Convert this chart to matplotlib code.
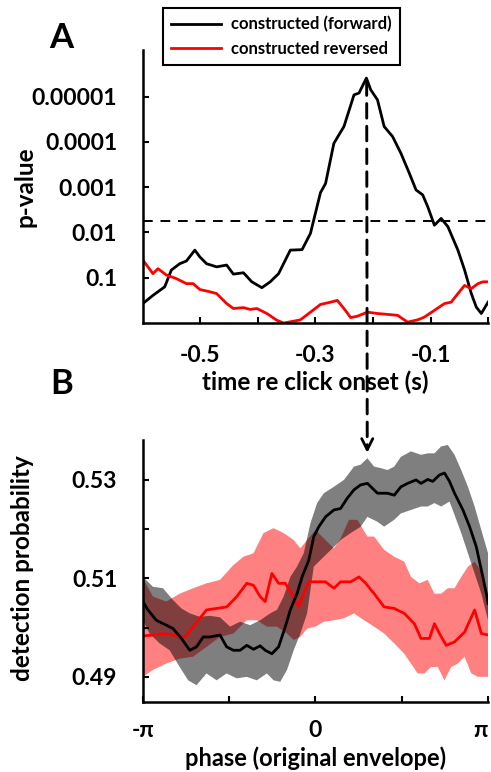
import numpy as np
import matplotlib.pyplot as plt
from matplotlib.patches import ConnectionPatch

plt.rcParams['font.family'] = ['Lato', 'DejaVu Sans']
plt.rcParams['font.weight'] = 'bold'
plt.rcParams['axes.labelweight'] = 'bold'

# panel A: -log10(p) vs time re click onset (s)
t_fwd = [-0.6, -0.5825, -0.562, -0.5505, -0.5359, -0.5243, -0.5097, -0.501, -0.4893,
         -0.4718, -0.4544, -0.4427, -0.4252, -0.4107, -0.3932, -0.3786, -0.3641,
         -0.3437, -0.3233, -0.3087, -0.2913, -0.2825, -0.268, -0.2505, -0.233,
         -0.2243, -0.2115, -0.2039, -0.1922, -0.1806, -0.1660, -0.1515, -0.1369,
         -0.1252, -0.1136, -0.1049, -0.0932, -0.0816, -0.0699, -0.0524, -0.0408,
         -0.0291, -0.0204, -0.0117, 0.0]
nlogp_fwd = [0.43, 0.61, 0.80, 1.17, 1.31, 1.37, 1.61, 1.46, 1.31, 1.24, 1.28, 1.08,
             1.11, 0.91, 0.78, 0.91, 1.09, 1.61, 1.62, 1.98, 2.88, 3.08, 3.97, 4.34,
             5.04, 5.08, 5.41, 5.15, 4.93, 4.34, 4.12, 3.75, 3.31, 2.94, 2.83, 2.57,
             2.16, 2.31, 2.13, 1.61, 1.17, 0.65, 0.35, 0.21, 0.46]

t_rev = [-0.6, -0.5825, -0.5738, -0.5592, -0.5417, -0.5243, -0.5126, -0.501, -0.4835,
         -0.4718, -0.4544, -0.4427, -0.4252, -0.4136, -0.4019, -0.3845, -0.3670,
         -0.3553, -0.3379, -0.3262, -0.3087, -0.2913, -0.2738, -0.2621, -0.2505,
         -0.2388, -0.2272, -0.2097, -0.1922, -0.1748, -0.1573, -0.1398, -0.1223,
         -0.1107, -0.0932, -0.0757, -0.0641, -0.0524, -0.0408, -0.0291, -0.0175,
         -0.0087, 0.0]
nlogp_rev = [1.39, 1.09, 1.20, 1.06, 0.98, 0.87, 0.87, 0.74, 0.69, 0.65, 0.43, 0.32,
             0.34, 0.30, 0.32, 0.21, 0.06, 0.0, 0.04, 0.07, 0.24, 0.41, 0.46, 0.50,
             0.32, 0.12, 0.15, 0.24, 0.21, 0.19, 0.17, 0.02, 0.07, 0.13, 0.28, 0.43,
             0.46, 0.65, 0.83, 0.76, 0.87, 0.91, 0.91]

nlogp_thresh = 2.25
peak_time = -0.211
peak_nlogp = 5.35
p_ticks = [1, 2, 3, 4, 5]
p_labels = ['0.1', '0.01', '0.001', '0.0001', '0.00001']

# panel B: detection probability vs phase (units of pi)
ph_fwd = [-1.0, -0.9709, -0.9223, -0.8641, -0.8252, -0.7767, -0.7282, -0.6893,
          -0.6505, -0.6117, -0.5534, -0.5146, -0.4757, -0.4369, -0.398, -0.3592,
          -0.3204, -0.2913, -0.2524, -0.2136, -0.1748, -0.1456, -0.1068, -0.0777,
          -0.0388, -0.0097, 0.0194, 0.0583, 0.1068, 0.1456, 0.1845, 0.2233, 0.2621,
          0.301, 0.3301, 0.3592, 0.4175, 0.4563, 0.4951, 0.534, 0.5825, 0.6117,
          0.6505, 0.6796, 0.7184, 0.7476, 0.7767, 0.8058, 0.8544, 0.8932, 0.932,
          0.9612, 0.9903, 1.0]
dp_fwd = [0.5053, 0.5036, 0.5015, 0.5005, 0.4998, 0.4978, 0.4954, 0.4961, 0.4981,
          0.4981, 0.4985, 0.4961, 0.4954, 0.4954, 0.4964, 0.4956, 0.4963, 0.4954,
          0.4947, 0.4961, 0.5002, 0.5036, 0.5069, 0.5103, 0.5137, 0.5185, 0.5205,
          0.5225, 0.5239, 0.5242, 0.5263, 0.5280, 0.5290, 0.5293, 0.5283, 0.5273,
          0.5273, 0.5269, 0.5286, 0.5293, 0.5300, 0.5293, 0.5301, 0.5297, 0.5310,
          0.5314, 0.5297, 0.5273, 0.5239, 0.5205, 0.5164, 0.5117, 0.5069, 0.5049]

ph_fwd_hi = [-1.0, -0.9417, -0.8835, -0.8252, -0.7767, -0.7282, -0.6699, -0.6117,
             -0.5534, -0.4951, -0.4369, -0.3786, -0.3204, -0.2621, -0.2233, -0.1845,
             -0.1456, -0.1068, -0.068, -0.0291, 0.0097, 0.0485, 0.1068, 0.165,
             0.2233, 0.2621, 0.301, 0.3398, 0.3786, 0.4175, 0.4563, 0.4951, 0.5534,
             0.6117, 0.6505, 0.6893, 0.7282, 0.767, 0.8058, 0.8447, 0.8835, 0.9223,
             0.9612, 1.0]
dp_fwd_hi = [0.5103, 0.5083, 0.5080, 0.5056, 0.5039, 0.5029, 0.5022, 0.5024, 0.5021,
             0.5002, 0.5012, 0.5005, 0.5015, 0.5029, 0.5036, 0.5063, 0.5103, 0.5124,
             0.5151, 0.5212, 0.5253, 0.5273, 0.5286, 0.5300, 0.5327, 0.5331, 0.5344,
             0.5327, 0.5324, 0.5320, 0.5327, 0.5347, 0.5358, 0.5351, 0.5354, 0.5354,
             0.5368, 0.5371, 0.5351, 0.5320, 0.5286, 0.5246, 0.5198, 0.5151]

ph_fwd_lo = [-1.0, -0.9612, -0.9029, -0.8447, -0.7864, -0.7379, -0.6893, -0.6311,
             -0.5728, -0.5146, -0.4563, -0.398, -0.3398, -0.2816, -0.2427, -0.2039,
             -0.1650, -0.1262, -0.0874, -0.0485, -0.0097, 0.0485, 0.1068, 0.1456,
             0.2039, 0.2621, 0.301, 0.3592, 0.398, 0.4563, 0.4951, 0.5534, 0.6117,
             0.6505, 0.6893, 0.7282, 0.7767, 0.8058, 0.8447, 0.8835, 0.9223, 0.9612,
             1.0]
dp_fwd_lo = [0.5015, 0.4988, 0.4968, 0.4954, 0.4920, 0.4893, 0.4883, 0.4907, 0.4893,
             0.4907, 0.4897, 0.4900, 0.4893, 0.4907, 0.4893, 0.4890, 0.4914, 0.4954,
             0.4988, 0.5029, 0.5124, 0.5144, 0.5164, 0.5178, 0.5192, 0.5205, 0.5225,
             0.5215, 0.5205, 0.5219, 0.5232, 0.5239, 0.5246, 0.5246, 0.5253, 0.5246,
             0.5256, 0.5229, 0.5192, 0.5151, 0.5110, 0.5069, 0.5015]

ph_rev = [-1.0, -0.9417, -0.8835, -0.8252, -0.7573, -0.7087, -0.6311, -0.5728, -0.5146,
          -0.4563, -0.398, -0.3592, -0.3204, -0.2913, -0.2524, -0.2136, -0.1748,
          -0.1262, -0.0971, -0.068, -0.0388, 0.0, 0.0583, 0.1068, 0.1456, 0.2039,
          0.2524, 0.2913, 0.3398, 0.3981, 0.4563, 0.5146, 0.5728, 0.6117, 0.6602,
          0.6893, 0.7184, 0.7573, 0.8058, 0.8641, 0.9223, 0.9612, 1.0]
dp_rev = [0.4983, 0.4985, 0.4988, 0.4985, 0.4981, 0.5002, 0.5036, 0.5039, 0.5042,
          0.5063, 0.5090, 0.5086, 0.5063, 0.5053, 0.5110, 0.5090, 0.5090, 0.5063,
          0.5042, 0.5069, 0.5093, 0.5093, 0.5093, 0.5080, 0.5093, 0.5093, 0.5103,
          0.5090, 0.5069, 0.5042, 0.5039, 0.5029, 0.5008, 0.4978, 0.4978, 0.5008,
          0.4988, 0.4964, 0.4971, 0.4991, 0.5036, 0.4988, 0.4985]

ph_rev_hi = [-1.0, -0.9417, -0.8641, -0.7864, -0.7087, -0.6311, -0.5534, -0.4757,
             -0.4175, -0.3592, -0.301, -0.2427, -0.1845, -0.1262, -0.0874, -0.0485,
             0.0, 0.0583, 0.1068, 0.1456, 0.1942, 0.2427, 0.3010, 0.3398, 0.3981,
             0.4563, 0.5146, 0.5534, 0.6019, 0.6505, 0.6893, 0.7282, 0.7670, 0.8058,
             0.8447, 0.8835, 0.9223, 0.9709, 1.0]
dp_rev_hi = [0.5100, 0.5063, 0.5053, 0.5069, 0.5080, 0.5090, 0.5097, 0.5127, 0.5144,
             0.5151, 0.5192, 0.5202, 0.5192, 0.5178, 0.5161, 0.5178, 0.5198, 0.5178,
             0.5161, 0.5181, 0.5219, 0.5219, 0.5185, 0.5185, 0.5158, 0.5144, 0.5134,
             0.5103, 0.5090, 0.5097, 0.5069, 0.5069, 0.5080, 0.5080, 0.5103, 0.5124,
             0.5134, 0.5110, 0.5056]

ph_rev_lo = [-1.0, -0.9417, -0.8641, -0.7864, -0.7087, -0.6311, -0.5534, -0.4757,
             -0.3981, -0.3398, -0.2816, -0.2233, -0.1650, -0.1262, -0.0874, -0.0485,
             0.0, 0.0485, 0.1068, 0.1650, 0.2233, 0.2816, 0.3398, 0.3981, 0.4563,
             0.5146, 0.5534, 0.5922, 0.6311, 0.6699, 0.7087, 0.7476, 0.7864, 0.8252,
             0.8641, 0.9029, 0.9417, 0.9806, 1.0]
dp_rev_lo = [0.4900, 0.4914, 0.4927, 0.4937, 0.4941, 0.4961, 0.4981, 0.4988, 0.5015,
             0.5015, 0.5002, 0.5002, 0.4988, 0.4975, 0.4981, 0.4998, 0.5002, 0.5012,
             0.5015, 0.5019, 0.5029, 0.5015, 0.5002, 0.4988, 0.4968, 0.4947, 0.4927,
             0.4907, 0.4907, 0.4920, 0.4920, 0.4893, 0.4920, 0.4927, 0.4941, 0.4907,
             0.4900, 0.4900, 0.4900]

arrow_phase = 0.3
arrow_dp = 0.5355

fig = plt.figure(figsize=(4.91, 7.72), dpi=100)
ax1 = fig.add_axes([0.291, 0.5816, 0.703, 0.3536])
ax2 = fig.add_axes([0.291, 0.0907, 0.703, 0.3393])

for ax in (ax1, ax2):
    for s in ('top', 'right'):
        ax.spines[s].set_visible(False)
    for s in ('left', 'bottom'):
        ax.spines[s].set_linewidth(1.8)
    ax.tick_params(direction='in', length=4, width=1.5, labelsize=16.5)
    ax.tick_params(axis='y', pad=18.5)
ax1.tick_params(axis='x', pad=15.5)
ax2.tick_params(axis='x', pad=13)

# --- A ---
ax1.plot(t_fwd, nlogp_fwd, color='black', lw=2, label='constructed (forward)')
ax1.plot(t_rev, nlogp_rev, color='red', lw=2, label='constructed reversed')
ax1.axhline(nlogp_thresh, color='black', lw=1.4, ls=(0, (5, 4)))
ax1.set_xlim(-0.6, 0.0)
ax1.set_ylim(0, 6.03)
ax1.set_yticks(p_ticks)
ax1.set_yticklabels(p_labels)
ax1.set_xticks([-0.5, -0.4, -0.3, -0.2, -0.1, 0.0])
ax1.set_xticklabels(['-0.5', '', '-0.3', '', '-0.1', ''])
ax1.set_ylabel('p-value', fontsize=17.5, va='center')
ax1.yaxis.set_label_coords(-0.342, 0.5)
ax1.set_xlabel('time re click onset (s)', fontsize=17.5, va='center')
ax1.xaxis.set_label_coords(0.5, -0.216)

fig.legend(loc='upper left', bbox_to_anchor=(0.332, 0.99), borderaxespad=0,
           fontsize=12, frameon=True, fancybox=False, edgecolor='black',
           framealpha=1, handlelength=3.0, handletextpad=0.6, borderpad=0.5,
           labelspacing=0.5)
fig.legends[0].get_frame().set_linewidth(1.5)

# --- B ---
ax2.fill(ph_rev_hi + ph_rev_lo[::-1], dp_rev_hi + dp_rev_lo[::-1],
         color='#ff8080', lw=0)
ax2.fill(ph_fwd_hi + ph_fwd_lo[::-1], dp_fwd_hi + dp_fwd_lo[::-1],
         color='black', alpha=0.5, lw=0)
ax2.plot(ph_rev, dp_rev, color='red', lw=2)
ax2.plot(ph_fwd, dp_fwd, color='black', lw=2)
ax2.set_xlim(-1, 1)
ax2.set_ylim(0.4849, 0.5381)
ax2.set_yticks([0.49, 0.50, 0.51, 0.52, 0.53])
ax2.set_yticklabels(['0.49', '', '0.51', '', '0.53'])
ax2.set_xticks([-1, -0.5, 0, 0.5, 1])
ax2.set_xticklabels(['-π', '', '0', '', 'π'])
ax2.get_xticklabels()[-1].set_horizontalalignment('right')
ax2.set_ylabel('detection probability', fontsize=17.5, va='center')
ax2.yaxis.set_label_coords(-0.348, 0.51)
ax2.set_xlabel('phase (original envelope)', fontsize=17, va='center')
ax2.xaxis.set_label_coords(0.5, -0.214)

# dashed link from the peak down to panel B, solid open head at the end
con = ConnectionPatch(xyA=(peak_time, peak_nlogp), coordsA=ax1.transData,
                      xyB=(arrow_phase, arrow_dp + 0.0012), coordsB=ax2.transData,
                      arrowstyle='-', ls=(0, (5, 2.8)), lw=2.1, color='black')
fig.add_artist(con)
ax2.annotate('', xy=(arrow_phase, arrow_dp), xytext=(arrow_phase, arrow_dp + 0.0016),
             arrowprops=dict(arrowstyle='->', lw=2.0, color='black',
                             mutation_scale=20, shrinkA=0, shrinkB=0),
             annotation_clip=False)

fig.text(0.124, 0.951, 'A', fontsize=25, fontweight='bold', ha='center', va='center')
fig.text(0.126, 0.5026, 'B', fontsize=25, fontweight='bold', ha='center', va='center')

fig.savefig('out.png', dpi=100)
